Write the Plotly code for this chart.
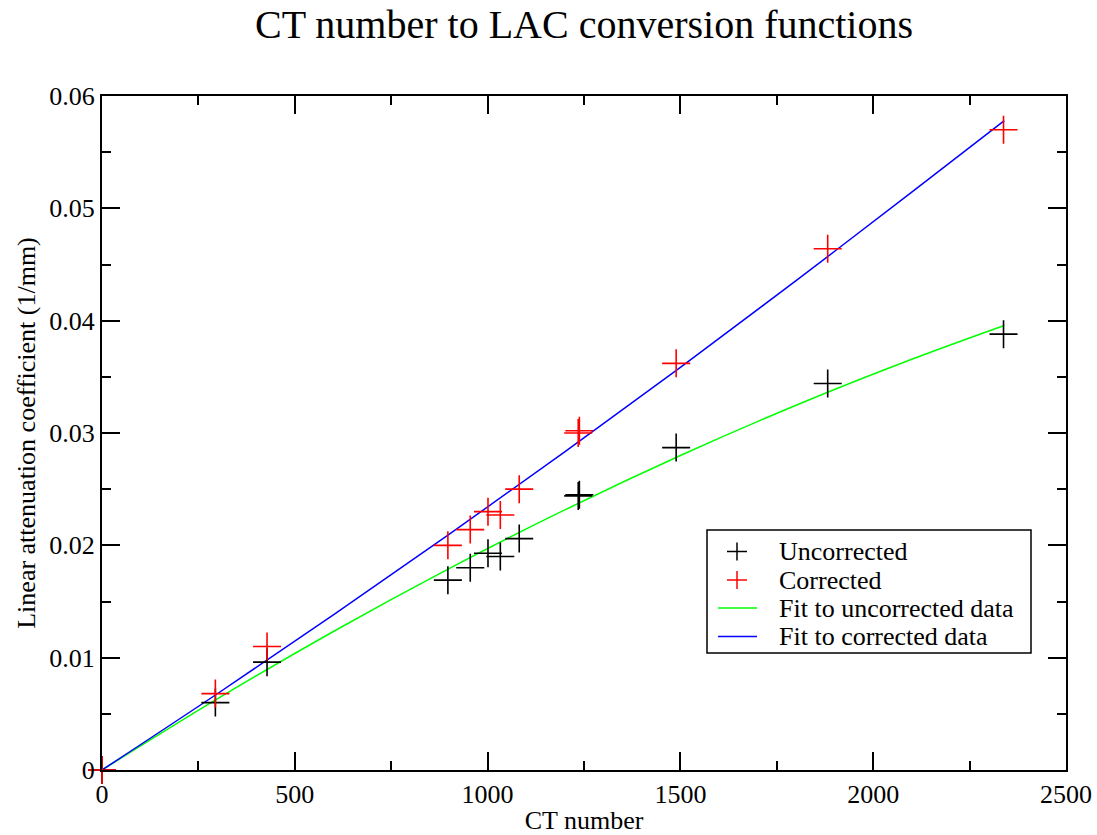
import plotly.graph_objects as go

# Measured points: CT number vs. linear attenuation coefficient (1/mm)
ct_uncorrected = [0, 294, 428, 897, 955, 1001, 1033, 1082, 1235, 1238, 1489, 1882, 2338]
lac_uncorrected = [0.0, 0.0060, 0.0096, 0.0169, 0.0180, 0.0193, 0.0190, 0.0206,
                   0.0244, 0.0245, 0.0287, 0.0344, 0.0388]

ct_corrected = [0, 294, 428, 897, 955, 1001, 1033, 1082, 1235, 1238, 1489, 1882, 2338]
lac_corrected = [0.0, 0.0068, 0.0110, 0.0200, 0.0214, 0.0230, 0.0227, 0.0250,
                 0.0300, 0.0302, 0.0362, 0.0464, 0.0570]

# Fitted conversion curves, sampled along the CT range
fit_ct = [0, 300, 600, 900, 1200, 1500, 1800, 2100, 2340]
fit_uncorrected = [0.0, 0.00635, 0.01233, 0.01793, 0.02315, 0.02800, 0.03247, 0.03656, 0.03957]
fit_corrected = [0.0, 0.00681, 0.01380, 0.02097, 0.02832, 0.03585, 0.04356, 0.05145, 0.05780]

legend_labels = ["Uncorrected", "Corrected", "Fit to uncorrected data", "Fit to corrected data"]

FONT = "Liberation Serif"
W, H = 1097, 835
ML, MR, MT, MB = 102, 31, 96, 65
PW, PH = W - ML - MR, H - MT - MB


def px_x(px):
    return (px - ML) / PW


def px_y(py):
    return (H - MB - py) / PH


fig = go.Figure()

fig.add_trace(go.Scatter(
    x=fit_ct, y=fit_uncorrected, mode="lines", line=dict(color="#00ff00", width=1.5, shape="spline"),
    showlegend=False, cliponaxis=False))
fig.add_trace(go.Scatter(
    x=fit_ct, y=fit_corrected, mode="lines", line=dict(color="#0000ff", width=1.5, shape="spline"),
    showlegend=False, cliponaxis=False))
fig.add_trace(go.Scatter(
    x=ct_uncorrected, y=lac_uncorrected, mode="markers",
    marker=dict(symbol="cross-thin", size=20, line=dict(color="#000000", width=1.6)),
    showlegend=False, cliponaxis=False))
fig.add_trace(go.Scatter(
    x=ct_corrected, y=lac_corrected, mode="markers",
    marker=dict(symbol="cross-thin", size=20, line=dict(color="#ff0000", width=1.6)),
    showlegend=False, cliponaxis=False))

# Hand-drawn legend box
shapes = [dict(type="rect", xref="paper", yref="paper",
               x0=px_x(707), x1=px_x(1031), y0=px_y(653), y1=px_y(530),
               line=dict(color="#000000", width=1.5), fillcolor="white", layer="above")]
annotations = []
row_y = [551.5, 580, 608, 636.5]
marker_colors = ["#000000", "#ff0000"]
line_colors = ["#00ff00", "#0000ff"]
for i, label in enumerate(legend_labels):
    y = row_y[i]
    if i < 2:
        c = marker_colors[i]
        shapes.append(dict(type="line", xref="paper", yref="paper",
                           x0=px_x(727), x1=px_x(747), y0=px_y(y), y1=px_y(y),
                           line=dict(color=c, width=1.5), layer="above"))
        shapes.append(dict(type="line", xref="paper", yref="paper",
                           x0=px_x(737), x1=px_x(737), y0=px_y(y - 9), y1=px_y(y + 9),
                           line=dict(color=c, width=1.5), layer="above"))
    else:
        shapes.append(dict(type="line", xref="paper", yref="paper",
                           x0=px_x(718), x1=px_x(757), y0=px_y(y), y1=px_y(y),
                           line=dict(color=line_colors[i - 2], width=1.5), layer="above"))
    annotations.append(dict(xref="paper", yref="paper", x=px_x(777), y=px_y(y),
                            xanchor="left", yanchor="middle", showarrow=False,
                            text=label, font=dict(family=FONT, size=26, color="#000000")))

axis_common = dict(
    showgrid=False, zeroline=False, showline=True, linecolor="#000000", linewidth=2,
    mirror="ticks", ticks="inside", ticklen=18, tickwidth=1.5, tickcolor="#000000",
    tickfont=dict(family=FONT, size=26, color="#000000"), layer="above traces",
)

fig.update_layout(
    width=W, height=H,
    margin=dict(l=ML, r=MR, t=MT, b=MB, autoexpand=False),
    paper_bgcolor="white", plot_bgcolor="white",
    title=dict(text="CT number to LAC conversion functions", x=(ML + PW / 2) / W, xanchor="center",
               y=1 - 24 / H, yanchor="middle", yref="container",
               font=dict(family=FONT, size=40, color="#000000")),
    xaxis=dict(range=[0, 2500], tickvals=[0, 500, 1000, 1500, 2000, 2500],
               minor=dict(tickvals=[250, 750, 1250, 1750, 2250], ticklen=9, tickwidth=1.5,
                          ticks="inside", tickcolor="#000000"),
               title=dict(text="CT number", font=dict(family=FONT, size=26, color="#000000"), standoff=4),
               **axis_common),
    yaxis=dict(range=[0, 0.06], tickvals=[0, 0.01, 0.02, 0.03, 0.04, 0.05, 0.06],
               ticktext=["0", "0.01", "0.02", "0.03", "0.04", "0.05", "0.06"],
               minor=dict(tickvals=[0.005, 0.015, 0.025, 0.035, 0.045, 0.055], ticklen=9, tickwidth=1.5,
                          ticks="inside", tickcolor="#000000"),
               title=dict(text="Linear attenuation coefficient (1/mm)",
                          font=dict(family=FONT, size=26, color="#000000"), standoff=6),
               **axis_common),
    shapes=shapes, annotations=annotations,
)

fig.write_html("out.html")
